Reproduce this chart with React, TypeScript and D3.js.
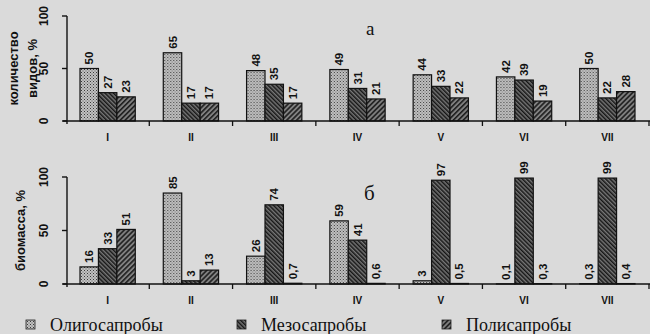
import React from 'react';
import * as d3 from 'd3';

const categories = ['I', 'II', 'III', 'IV', 'V', 'VI', 'VII'];
const seriesNames = ['Олигосапробы', 'Мезосапробы', 'Полисапробы'];

// количество видов, %
const speciesOligo = [50, 65, 48, 49, 44, 42, 50];
const speciesMeso = [27, 17, 35, 31, 33, 39, 22];
const speciesPoly = [23, 17, 17, 21, 22, 19, 28];

// биомасса, %
const biomassOligo = [16, 85, 26, 59, 3, 0.1, 0.3];
const biomassMeso = [33, 3, 74, 41, 97, 99, 99];
const biomassPoly = [51, 13, 0.7, 0.6, 0.5, 0.3, 0.4];

const yTicks = [0, 50, 100];

const W = 650;
const H = 334;
const patternIds = ['pOligo', 'pMeso', 'pPoly'];
const sans = '"Liberation Sans", Arial, sans-serif';
const serif = '"Liberation Serif", "Times New Roman", serif';

const fmt = (v: number) => String(v).replace('.', ',');

// vertical text, reading bottom to top
function VText({ x, y, anchor = 'middle', size = 12, children }: any) {
  return (
    <g transform={`translate(${x},${y}) rotate(-90)`}>
      <text
        x={0}
        y={0}
        dy="0.35em"
        textAnchor={anchor}
        fontFamily={sans}
        fontWeight="bold"
        fontSize={size}
        fill="#111"
      >
        {children}
      </text>
    </g>
  );
}

function Panel({ series, top, bottom, title, letter, letterPos, letterSize }: any) {
  const x = d3.scaleBand().domain(categories).range([66, 649]);
  const xi = d3.scaleBand().domain(seriesNames).range([0, x.bandwidth()]).paddingOuter(0.76);
  const y = d3.scaleLinear().domain([0, 100]).range([bottom, top]);
  const axisX = x.range()[0] + 1;

  return (
    <g>
      {title.map((t: string, i: number) => (
        <VText key={t} x={title.length === 2 ? 13 + i * 19 : 20} y={(top + bottom) / 2} size={13}>
          {t}
        </VText>
      ))}
      {/* y axis */}
      <line x1={axisX} x2={axisX} y1={y(100)} y2={y(0) + 3} stroke="#111" strokeWidth={1.4} />
      {yTicks.map((t) => (
        <g key={t}>
          <line x1={axisX - 5} x2={axisX} y1={y(t)} y2={y(t)} stroke="#111" strokeWidth={1.4} />
          <VText x={44} y={y(t)} size={12}>
            {t}
          </VText>
        </g>
      ))}
      {/* bars */}
      {categories.map((c, ci) => (
        <g key={c} transform={`translate(${x(c)},0)`}>
          {series.map((s: number[], si: number) => {
            const v = s[ci];
            const bx = xi(seriesNames[si]) as number;
            const bw = xi.bandwidth();
            return (
              <g key={si}>
                <rect
                  x={bx}
                  y={y(v)}
                  width={bw}
                  height={y(0) - y(v)}
                  fill={`url(#${patternIds[si]})`}
                  stroke="#111"
                  strokeWidth={1.2}
                />
                <VText x={bx + bw / 2} y={y(v) - 4} anchor="start" size={11.5}>
                  {fmt(v)}
                </VText>
              </g>
            );
          })}
        </g>
      ))}
      {/* x axis */}
      <line x1={axisX - 4} x2={W} y1={y(0)} y2={y(0)} stroke="#111" strokeWidth={1.5} />
      {categories.map((c) => (
        <g key={c}>
          <line
            x1={(x(c) as number) + x.bandwidth()}
            x2={(x(c) as number) + x.bandwidth()}
            y1={y(0)}
            y2={y(0) + 5}
            stroke="#111"
            strokeWidth={1.3}
          />
          <text
            x={(x(c) as number) + x.bandwidth() / 2}
            y={y(0) + 20}
            textAnchor="middle"
            fontFamily={sans}
            fontWeight="bold"
            fontSize={10}
            fill="#111"
          >
            {c}
          </text>
        </g>
      ))}
      <text x={letterPos[0]} y={letterPos[1]} fontFamily={serif} fontSize={letterSize} fill="#111">
        {letter}
      </text>
    </g>
  );
}

export default function App() {
  const legendX = [26, 237, 442];
  return (
    <svg width={W} height={H} style={{ position: 'absolute', left: 0, top: 0 }}>
      <defs>
        <pattern id="pOligo" width={3} height={3} patternUnits="userSpaceOnUse">
          <rect width={3} height={3} fill="#c2c2c2" />
          <rect x={0} y={0} width={1} height={1} fill="#3a3a3a" />
          <rect x={1.5} y={1.5} width={1} height={1} fill="#5a5a5a" />
        </pattern>
        <pattern id="pMeso" width={3} height={3} patternUnits="userSpaceOnUse" patternTransform="rotate(-45)">
          <rect width={3} height={3} fill="#777" />
          <rect x={0} y={0} width={1.5} height={3} fill="#161616" />
        </pattern>
        <pattern id="pPoly" width={3.5} height={3.5} patternUnits="userSpaceOnUse" patternTransform="rotate(45)">
          <rect width={3.5} height={3.5} fill="#808080" />
          <rect x={0} y={0} width={1.6} height={3.5} fill="#1e1e1e" />
        </pattern>
      </defs>
      <rect width={W} height={H} fill="#dadada" />
      <Panel
        series={[speciesOligo, speciesMeso, speciesPoly]}
        top={16}
        bottom={121}
        title={['количество', 'видов, %']}
        letter="а"
        letterPos={[366, 35]}
        letterSize={19}
      />
      <Panel
        series={[biomassOligo, biomassMeso, biomassPoly]}
        top={177}
        bottom={284}
        title={['биомасса, %']}
        letter="б"
        letterPos={[364, 200]}
        letterSize={21}
      />
      {seriesNames.map((n, i) => (
        <g key={n}>
          <rect
            x={legendX[i]}
            y={320}
            width={9}
            height={9}
            fill={`url(#${patternIds[i]})`}
            stroke="#222"
            strokeWidth={0.8}
          />
          <text x={legendX[i] + 24} y={331} fontFamily={serif} fontSize={18} fill="#111">
            {n}
          </text>
        </g>
      ))}
    </svg>
  );
}
